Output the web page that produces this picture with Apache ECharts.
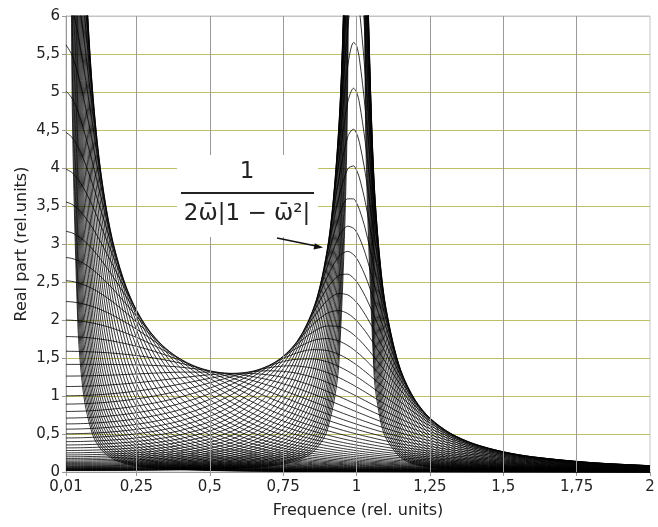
<!DOCTYPE html>
<html>
<head>
<meta charset="utf-8">
<script src="https://cdn.jsdelivr.net/npm/echarts@6/dist/echarts.min.js"></script>
<style>html,body{margin:0;padding:0;background:#fff}#c{width:658px;height:527px}</style>
</head>
<body>
<div id="c"></div>
<script>
// Frequency samples (rel. units)
const freq = [0.01,0.03,0.05,0.07,0.1,0.13,0.17,0.22,0.26,0.3,0.35,0.4,0.5,0.6,0.7,0.78,0.85,0.9,0.94,0.97,0.99,1.0,1.01,1.03,1.06,1.08,1.1,1.15,1.2,1.25,1.32,1.4,1.5,1.6,1.8,2.0];
const xTicks = [0.01,0.25,0.5,0.75,1,1.25,1.5,1.75,2];

// Real part curves, one per damping step
const r_m40 = [0.02,0.02,0.0201,0.0202,0.0204,0.0207,0.0212,0.0221,0.023,0.0242,0.026,0.0283,0.0356,0.0488,0.0768,0.13,0.259,0.549,1.44,5.17,25.4,50,24.6,4.84,1.27,0.71,0.449,0.191,0.103,0.0631,0.0362,0.0217,0.0128,0.0082,0.004,0.0022];
const r_m39 = [0.02244,0.02248,0.02255,0.02266,0.0229,0.02322,0.0238,0.02478,0.02581,0.0271,0.02914,0.0318,0.0399,0.0548,0.0862,0.146,0.29,0.6147,1.6036,5.657,25.2,44.56,24.45,5.289,1.4164,0.7936,0.5019,0.2144,0.1155,0.0707,0.0406,0.0243,0.0144,0.0092,0.0045,0.0025];
const r_m38 = [0.0252,0.0252,0.0253,0.0254,0.0257,0.0261,0.0267,0.0278,0.029,0.0304,0.0327,0.0357,0.0447,0.0614,0.0967,0.164,0.325,0.688,1.79,6.16,24.8,39.7,24,5.75,1.58,0.886,0.561,0.24,0.1295,0.0793,0.0456,0.0273,0.0161,0.0103,0.005,0.0028];
const r_m37 = [0.02826,0.0283,0.02839,0.02853,0.02882,0.02923,0.02996,0.0312,0.0325,0.03411,0.03668,0.04003,0.0502,0.0689,0.1085,0.1836,0.3641,0.7688,1.982,6.657,23.98,35.4,23.19,6.201,1.7467,0.9871,0.6269,0.2689,0.1451,0.0889,0.0511,0.0306,0.0181,0.0116,0.0056,0.0031];
const r_m36 = [0.0317,0.0318,0.0319,0.032,0.0323,0.0328,0.0336,0.035,0.0365,0.0383,0.0412,0.0449,0.0563,0.0773,0.1216,0.206,0.408,0.859,2.2,7.14,22.95,31.5,22.2,6.64,1.93,1.098,0.70,0.301,0.1625,0.0997,0.0573,0.0343,0.0203,0.013,0.0063,0.0035];
const r_m35 = [0.03557,0.03563,0.03574,0.03592,0.03629,0.0368,0.03771,0.03928,0.04091,0.04295,0.04619,0.0504,0.0632,0.0867,0.1364,0.2308,0.4564,0.958,2.425,7.595,21.74,28.12,20.99,7.041,2.13,1.2195,0.7794,0.3365,0.182,0.1117,0.0643,0.0385,0.0227,0.0146,0.0071,0.0039];
const r_m34 = [0.0399,0.04,0.0401,0.0403,0.0407,0.0413,0.0423,0.0441,0.0459,0.0482,0.0518,0.0565,0.0709,0.0973,0.153,0.259,0.511,1.067,2.67,7.99,20.4,25.06,19.67,7.39,2.34,1.35,0.867,0.376,0.2037,0.125,0.072,0.0431,0.0255,0.0164,0.0079,0.0044];
const r_m33 = [0.04478,0.04485,0.045,0.04522,0.04568,0.04633,0.04748,0.04945,0.0515,0.05407,0.05814,0.06343,0.0795,0.1091,0.1715,0.2897,0.5707,1.187,2.9226,8.324,18.96,22.33,18.28,7.672,2.554,1.4911,0.9623,0.4198,0.2279,0.1401,0.0807,0.0484,0.0286,0.0184,0.0089,0.005];
const r_m32 = [0.0503,0.0503,0.0505,0.0507,0.0513,0.052,0.0533,0.0555,0.0578,0.0607,0.0652,0.0712,0.0892,0.1224,0.192,0.324,0.637,1.317,3.18,8.56,17.5,19.9,16.86,7.87,2.77,1.64,1.065,0.468,0.2547,0.157,0.0904,0.0542,0.032,0.0206,0.01,0.0056];
const r_m31 = [0.05638,0.05647,0.05665,0.05693,0.05751,0.05832,0.05977,0.06224,0.06482,0.06805,0.07317,0.07983,0.1001,0.1372,0.2154,0.363,0.7108,1.4575,3.4463,8.695,16.06,17.74,15.46,7.962,2.991,1.7954,1.1757,0.5209,0.2844,0.1754,0.1013,0.0608,0.0359,0.0231,0.0112,0.0063];
const r_m30 = [0.0633,0.0634,0.0636,0.0639,0.0645,0.0654,0.0671,0.0698,0.0727,0.0763,0.0821,0.0896,0.1122,0.1539,0.241,0.406,0.792,1.608,3.70,8.72,14.65,15.81,14.1,7.95,3.2,1.955,1.292,0.579,0.3173,0.196,0.1133,0.068,0.0402,0.0259,0.0126,0.007];
const r_m29 = [0.07098,0.07109,0.07132,0.07166,0.0724,0.07342,0.07524,0.07835,0.08159,0.08565,0.09208,0.10046,0.1259,0.1725,0.2703,0.4537,0.8799,1.7662,3.9428,8.621,13.31,14.09,12.81,7.84,3.39,2.1143,1.4138,0.6412,0.3533,0.2188,0.1267,0.0762,0.0451,0.029,0.0141,0.0079];
const r_m28 = [0.0796,0.0798,0.08,0.0804,0.0812,0.0824,0.0844,0.0879,0.0915,0.0961,0.1033,0.1127,0.1412,0.1933,0.3025,0.5065,0.976,1.931,4.157,8.418,12.05,12.56,11.59,7.63,3.554,2.269,1.538,0.708,0.3927,0.244,0.1416,0.0852,0.0505,0.0325,0.0158,0.0088];
const r_m27 = [0.08935,0.0895,0.08978,0.09022,0.09114,0.09242,0.09471,0.09862,0.1027,0.10779,0.11587,0.12638,0.15826,0.21659,0.3384,0.5647,1.0793,2.0988,4.3365,8.119,10.871,11.194,10.454,7.337,3.685,2.4146,1.6619,0.7798,0.4356,0.2716,0.1581,0.0953,0.0565,0.0364,0.0177,0.0099];
const r_m26 = [0.1003,0.1004,0.1007,0.1012,0.1023,0.1037,0.1063,0.1107,0.1152,0.1209,0.13,0.1417,0.1774,0.2426,0.3782,0.6286,1.19,2.266,4.47,7.742,9.785,9.976,9.409,6.976,3.773,2.544,1.782,0.855,0.4818,0.302,0.1763,0.1065,0.0632,0.0408,0.0199,0.0111];
const r_m25 = [0.1125,0.11267,0.11303,0.11357,0.11474,0.11634,0.11922,0.12412,0.12924,0.13563,0.14577,0.15916,0.19883,0.27156,0.42234,0.69834,1.3055,2.4267,4.5486,7.305,8.791,8.891,8.452,6.566,3.8137,2.6498,1.8932,0.9315,0.531,0.3346,0.1962,0.1188,0.0707,0.0456,0.0222,0.0124];
const r_m24 = [0.1262,0.1264,0.1268,0.1274,0.1287,0.1305,0.1338,0.1393,0.145,0.1521,0.1635,0.1782,0.2228,0.3039,0.4711,0.774,1.426,2.576,4.569,6.83,7.886,7.925,7.58,6.125,3.805,2.728,1.992,1.009,0.5828,0.37,0.218,0.1325,0.079,0.051,0.0249,0.0139];
const r_m23 = [0.14162,0.14184,0.14229,0.14298,0.14443,0.14645,0.15006,0.1562,0.16261,0.17061,0.1833,0.19975,0.24949,0.33969,0.52455,0.85528,1.5475,2.7052,4.529,6.333,7.063,7.063,6.789,5.669,3.7454,2.7723,2.0713,1.0848,0.6364,0.4072,0.2416,0.1473,0.0881,0.057,0.0279,0.0156];
const r_m22 = [0.1589,0.1592,0.1597,0.1604,0.1621,0.1643,0.1683,0.1752,0.1824,0.1913,0.2055,0.2239,0.2793,0.3795,0.5831,0.9417,1.668,2.81,4.431,5.832,6.321,6.294,6.075,5.211,3.641,2.781,2.129,1.156,0.6909,0.4465,0.2669,0.1636,0.0981,0.0636,0.0312,0.0175];
const r_m21 = [0.17829,0.17857,0.17913,0.17999,0.18181,0.18433,0.18884,0.19652,0.20453,0.21451,0.23033,0.25081,0.31247,0.42336,0.6466,1.0322,1.7831,2.8826,4.2824,5.3386,5.6521,5.6101,5.4318,4.7639,3.4966,2.753,2.1594,1.2207,0.7447,0.4869,0.2939,0.1812,0.1091,0.0709,0.0348,0.0195];
const r_m20 = [0.2,0.2004,0.201,0.2019,0.204,0.2069,0.2118,0.2204,0.2293,0.2405,0.2581,0.2809,0.3493,0.4717,0.7151,1.1256,1.888,2.92,4.09,4.863,5.05,5.0,4.853,4.334,3.321,2.69,2.162,1.275,0.7962,0.528,0.3221,0.2,0.121,0.0789,0.0389,0.0218];
const r_m19 = [0.2244,0.2248,0.2255,0.2266,0.2288,0.232,0.2376,0.2472,0.2571,0.2695,0.2891,0.3144,0.3902,0.5246,0.788,1.2197,1.979,2.9186,3.8662,4.4111,4.5107,4.4563,4.3344,3.9278,3.1229,2.5965,2.1366,1.3153,0.8433,0.568,0.3512,0.2199,0.1339,0.0876,0.0433,0.0244];
const r_m18 = [0.2518,0.2522,0.253,0.2542,0.2567,0.2602,0.2665,0.2771,0.2882,0.302,0.3237,0.3518,0.4354,0.5823,0.8648,1.312,2.05,2.879,3.62,3.988,4.027,3.972,3.869,3.548,2.911,2.477,2.084,1.34,0.8838,0.606,0.3806,0.2407,0.1477,0.097,0.0482,0.0272];
const r_m17 = [0.2826,0.283,0.2839,0.2852,0.288,0.2919,0.2989,0.3107,0.323,0.3382,0.3623,0.3933,0.485,0.6445,0.9442,1.3992,2.0977,2.8041,3.3603,3.5948,3.5933,3.5396,3.4528,3.1964,2.6917,2.339,2.0083,1.3481,0.9157,0.6404,0.4093,0.2621,0.1622,0.1071,0.0535,0.0303];
const r_m16 = [0.317,0.3175,0.3185,0.32,0.3231,0.3274,0.3351,0.3482,0.3618,0.3786,0.4052,0.4392,0.5394,0.7111,1.025,1.478,2.119,2.698,3.098,3.234,3.206,3.155,3.081,2.874,2.473,2.188,1.913,1.338,0.937,0.6696,0.4365,0.2834,0.1772,0.1178,0.0593,0.0337];
const r_m15 = [0.3557,0.3563,0.3573,0.359,0.3624,0.3672,0.3757,0.3901,0.4051,0.4237,0.4528,0.49,0.5986,0.7814,1.1042,1.5443,2.112,2.5668,2.8381,2.9031,2.8596,2.8117,2.7477,2.579,2.2595,2.0297,1.8039,1.311,0.9465,0.6919,0.461,0.3041,0.1925,0.129,0.0655,0.0374];
const r_m14 = [0.3991,0.3997,0.4009,0.4027,0.4065,0.4117,0.4211,0.437,0.4534,0.4737,0.5054,0.5458,0.6625,0.8546,1.18,1.595,2.078,2.417,2.587,2.603,2.55,2.506,2.45,2.311,2.055,1.87,1.685,1.268,0.9436,0.706,0.4816,0.3235,0.2078,0.1404,0.0721,0.0414];
const r_m13 = [0.4478,0.4485,0.4498,0.4517,0.4559,0.4616,0.4719,0.4892,0.5071,0.5292,0.5635,0.607,0.7309,0.9294,1.2495,1.6263,2.0182,2.2558,2.348,2.3305,2.2742,2.2334,2.1851,2.0691,1.8615,1.7121,1.5619,1.2129,0.9284,0.7111,0.4972,0.3406,0.2224,0.1519,0.079,0.0457];
const r_m12 = [0.5025,0.5032,0.5046,0.5067,0.5113,0.5175,0.5287,0.5474,0.5667,0.5905,0.6272,0.6734,0.803,1.004,1.309,1.637,1.937,2.089,2.124,2.085,2.028,1.991,1.948,1.851,1.681,1.56,1.438,1.148,0.9019,0.7068,0.507,0.3547,0.2358,0.1631,0.0861,0.0502];
const r_m11 = [0.5638,0.5645,0.5661,0.5684,0.5733,0.58,0.592,0.6121,0.6327,0.658,0.6968,0.7452,0.8781,1.0758,1.3557,1.626,1.8386,1.9208,1.9153,1.8637,1.8078,1.7741,1.737,1.654,1.5141,1.4152,1.3153,1.0753,0.8657,0.6934,0.5102,0.365,0.2475,0.1736,0.0932,0.0549];
const r_m10 = [0.6326,0.6334,0.635,0.6375,0.6427,0.6498,0.6626,0.6838,0.7055,0.7319,0.7722,0.8218,0.9547,1.143,1.387,1.594,1.728,1.756,1.723,1.665,1.612,1.581,1.549,1.478,1.361,1.28,1.198,0.999,0.8218,0.6718,0.5067,0.3708,0.2568,0.1829,0.1002,0.0597];
const r_m9 = [0.7097,0.7106,0.7123,0.7149,0.7203,0.7278,0.7411,0.7631,0.7855,0.8125,0.8532,0.9026,1.0308,1.201,1.4001,1.5436,1.6097,1.5983,1.5477,1.4867,1.4367,1.4092,1.3803,1.3191,1.2212,1.1538,1.086,0.9216,0.7724,0.6432,0.4967,0.3718,0.2633,0.1906,0.1067,0.0644];
const r_m8 = [0.7963,0.7972,0.7989,0.8016,0.8072,0.8148,0.8282,0.8505,0.8728,0.8995,0.9393,0.9866,1.104,1.248,1.395,1.477,1.488,1.449,1.388,1.327,1.281,1.256,1.23,1.177,1.094,1.038,0.9815,0.8449,0.7196,0.6092,0.4809,0.3679,0.2664,0.1963,0.1126,0.069];
const r_m7 = [0.8935,0.8943,0.8961,0.8987,0.9041,0.9116,0.9247,0.9462,0.9676,0.9927,1.0295,1.0721,1.1724,1.2819,1.3719,1.3982,1.3667,1.3088,1.243,1.1842,1.1415,1.1194,1.0968,1.0505,0.9795,0.932,0.8847,0.7705,0.6653,0.5714,0.4601,0.3594,0.266,0.1996,0.1175,0.0733];
const r_m6 = [1.0025,1.0033,1.0049,1.0073,1.0123,1.0192,1.0312,1.0506,1.0694,1.0913,1.1223,1.157,1.232,1.3,1.332,1.311,1.248,1.179,1.112,1.056,1.018,0.9976,0.9776,0.9371,0.876,0.8356,0.7956,0.6996,0.611,0.5314,0.4355,0.3467,0.2622,0.2002,0.1212,0.077];
const r_m5 = [1.1248,1.1254,1.1267,1.1288,1.1329,1.1385,1.1482,1.1634,1.1778,1.194,1.2159,1.2386,1.2799,1.3003,1.2782,1.2186,1.135,1.0603,0.9942,0.9422,0.9069,0.8891,0.8714,0.8358,0.7829,0.7483,0.7142,0.633,0.5581,0.4905,0.4082,0.3307,0.2551,0.1983,0.1234,0.08];
const r_m4 = [1.262,1.2624,1.2632,1.2644,1.2669,1.2703,1.2759,1.2843,1.2916,1.299,1.3076,1.314,1.314,1.284,1.213,1.125,1.028,0.9517,0.8883,0.8403,0.8083,0.7924,0.7766,0.7453,0.6993,0.6694,0.6403,0.571,0.5075,0.4499,0.3794,0.3121,0.2452,0.1938,0.124,0.0821];
const r_m3 = [1.4159,1.4159,1.4159,1.4159,1.4157,1.4154,1.4146,1.4123,1.409,1.4039,1.3942,1.3795,1.3311,1.2516,1.1396,1.0312,0.9282,0.853,0.7932,0.7492,0.7205,0.7063,0.6922,0.6646,0.6243,0.5984,0.5733,0.5139,0.4596,0.4105,0.3501,0.2919,0.2331,0.1871,0.123,0.0832];
const r_m2 = [1.5886,1.5879,1.5866,1.5846,1.5802,1.5743,1.5637,1.5459,1.5276,1.5055,1.4721,1.432,1.331,1.205,1.061,0.9407,0.8359,0.7636,0.7081,0.668,0.6421,0.6295,0.617,0.5925,0.5572,0.5346,0.5128,0.4616,0.415,0.3729,0.321,0.2707,0.2194,0.1786,0.1204,0.0832];
const r_m1 = [1.7823,1.7806,1.7773,1.7723,1.7616,1.7472,1.7225,1.6828,1.6441,1.6,1.5377,1.4683,1.3137,1.1475,0.981,0.8543,0.7513,0.683,0.6319,0.5956,0.5723,0.561,0.5499,0.5282,0.4972,0.4774,0.4584,0.414,0.3738,0.3375,0.2928,0.2493,0.2046,0.1687,0.1164,0.0821];
const r_0 = [1.9996,1.9964,1.99,1.9806,1.9606,1.934,1.8893,1.8197,1.7547,1.6834,1.5873,1.4863,1.28,1.0813,0.9009,0.7731,0.6741,0.6105,0.5637,0.5309,0.5101,0.5,0.4901,0.4709,0.4435,0.4261,0.4095,0.3708,0.3359,0.3046,0.2659,0.2283,0.1893,0.1578,0.1112,0.08];
const r_p1 = [2.2434,2.2379,2.2271,2.2111,2.1777,2.1339,2.0615,1.9526,1.8549,1.7514,1.618,1.4848,1.232,1.0097,0.8227,0.6975,0.604,0.5453,0.5028,0.4733,0.4546,0.4456,0.4368,0.4198,0.3955,0.3803,0.3656,0.3318,0.3014,0.2742,0.2406,0.2079,0.1741,0.1464,0.1052,0.077];
const r_p2 = [2.5168,2.5081,2.4908,2.4654,2.4129,2.3451,2.2357,2.0769,1.9399,1.8002,1.628,1.4639,1.1725,0.9354,0.7479,0.6278,0.5406,0.4869,0.4484,0.4219,0.4052,0.3972,0.3893,0.3742,0.3527,0.3392,0.3264,0.2966,0.2701,0.2463,0.2171,0.1886,0.1591,0.1349,0.0985,0.0733];
const r_p3 = [2.8234,2.8099,2.7835,2.7446,2.6654,2.565,2.4071,2.187,2.0052,1.8269,1.6165,1.425,1.1045,0.8606,0.6773,0.564,0.4835,0.4346,0.3998,0.376,0.3611,0.354,0.347,0.3335,0.3145,0.3026,0.2912,0.265,0.2417,0.2209,0.1954,0.1706,0.1447,0.1236,0.0915,0.069];
const r_p4 = [3.1672,3.147,3.1073,3.0495,2.9334,2.7895,2.57,2.2775,2.0469,1.8297,1.5842,1.3703,1.031,0.7872,0.6115,0.5058,0.4321,0.3878,0.3565,0.3352,0.3219,0.3155,0.3092,0.2973,0.2804,0.2698,0.2598,0.2367,0.2162,0.1979,0.1755,0.1538,0.1311,0.1126,0.0844,0.0644];
const r_p5 = [3.5528,3.5228,3.4643,3.3802,3.214,3.0133,2.7179,2.3433,2.0624,1.8086,1.5333,1.303,0.9548,0.7166,0.5507,0.4531,0.3859,0.3459,0.3178,0.2987,0.2869,0.2812,0.2756,0.265,0.25,0.2406,0.2317,0.2113,0.1932,0.1771,0.1574,0.1383,0.1185,0.1022,0.0773,0.0597];
const r_p6 = [3.985,3.9412,3.8563,3.7356,3.5025,3.2296,2.8438,2.3806,2.0508,1.7647,1.4667,1.2265,0.8783,0.6497,0.4949,0.4055,0.3445,0.3085,0.2833,0.2663,0.2557,0.2506,0.2457,0.2362,0.2228,0.2145,0.2066,0.1886,0.1726,0.1584,0.141,0.1242,0.1067,0.0924,0.0705,0.0549];
const r_p7 = [4.4693,4.4059,4.2842,4.1137,3.7926,3.4302,2.9411,2.387,2.0127,1.7009,1.388,1.1442,0.8032,0.5871,0.444,0.3625,0.3075,0.2751,0.2526,0.2373,0.2279,0.2233,0.2189,0.2105,0.1986,0.1913,0.1842,0.1682,0.1541,0.1415,0.1262,0.1113,0.0959,0.0833,0.064,0.0502];
const r_p8 = [5.0121,4.9209,4.748,4.5102,4.0761,3.6064,3.004,2.3619,1.9506,1.6208,1.3009,1.059,0.731,0.5291,0.3979,0.3239,0.2743,0.2453,0.2251,0.2115,0.2031,0.1991,0.1951,0.1876,0.1771,0.1705,0.1643,0.15,0.1375,0.1264,0.1128,0.0997,0.0861,0.0749,0.0579,0.0457];
const r_p9 = [5.62,5.4898,5.2463,4.9191,4.3432,3.7492,3.0285,2.307,1.8682,1.5285,1.209,0.9737,0.6627,0.4758,0.3561,0.2893,0.2447,0.2187,0.2007,0.1885,0.181,0.1774,0.1739,0.1672,0.1578,0.152,0.1465,0.1338,0.1227,0.1128,0.1008,0.0892,0.0772,0.0673,0.0522,0.0414];
const r_p10 = [6.3006,6.1154,5.7759,5.3318,4.5827,3.8506,3.0131,2.2258,1.7699,1.4283,1.1154,0.8901,0.5988,0.4271,0.3185,0.2583,0.2183,0.195,0.1789,0.168,0.1613,0.1581,0.155,0.149,0.1407,0.1355,0.1306,0.1193,0.1094,0.1007,0.09,0.0797,0.0691,0.0603,0.047,0.0374];
const r_p11 = [7.0621,6.8003,6.3309,5.7369,4.7829,3.9043,2.9588,2.1229,1.6605,1.3239,1.0227,0.8098,0.5396,0.3828,0.2846,0.2305,0.1946,0.1738,0.1594,0.1498,0.1438,0.1409,0.1381,0.1328,0.1254,0.1208,0.1164,0.1064,0.0976,0.0898,0.0804,0.0712,0.0618,0.054,0.0422,0.0337];
const r_p12 = [7.9135,7.5452,6.9027,6.1208,4.933,3.907,2.8691,2.0036,1.5446,1.2186,0.9328,0.7339,0.4852,0.3427,0.2542,0.2056,0.1735,0.1549,0.1421,0.1335,0.1281,0.1256,0.1231,0.1184,0.1118,0.1076,0.1037,0.0948,0.087,0.0801,0.0717,0.0636,0.0552,0.0483,0.0378,0.0303];
const r_p13 = [8.8647,8.349,7.4788,6.4677,5.024,3.8585,2.7492,1.8735,1.4261,1.1152,0.847,0.663,0.4355,0.3066,0.2269,0.1834,0.1547,0.1381,0.1267,0.119,0.1142,0.1119,0.1097,0.1055,0.0996,0.0959,0.0925,0.0846,0.0776,0.0715,0.064,0.0568,0.0493,0.0432,0.0339,0.0272];
const r_p14 = [9.926,9.2077,8.0434,6.7612,5.0501,3.7619,2.6057,1.7377,1.3083,1.0155,0.7664,0.5973,0.3903,0.274,0.2025,0.1636,0.1379,0.1231,0.1129,0.106,0.1018,0.0998,0.0978,0.094,0.0888,0.0855,0.0824,0.0754,0.0692,0.0637,0.0571,0.0507,0.044,0.0386,0.0303,0.0244];
const r_p15 = [11.1085,10.1137,8.5773,6.9856,5.0097,3.6231,2.4457,1.6004,1.1939,0.9209,0.6915,0.537,0.3494,0.2448,0.1807,0.1459,0.123,0.1097,0.1006,0.0945,0.0907,0.0889,0.0872,0.0838,0.0791,0.0762,0.0735,0.0672,0.0617,0.0568,0.0509,0.0452,0.0393,0.0345,0.0271,0.0218];
const r_p16 = [12.424,11.055,9.058,7.1275,4.9053,3.45,2.2757,1.4652,1.0847,0.8324,0.6223,0.4819,0.3126,0.2186,0.1612,0.13,0.1096,0.0978,0.0897,0.0842,0.0809,0.0792,0.0777,0.0747,0.0705,0.0679,0.0655,0.0599,0.055,0.0507,0.0454,0.0403,0.0351,0.0308,0.0242,0.0195];
const r_p17 = [13.8835,12.0131,9.4634,7.1781,4.7436,3.2515,2.1018,1.3347,0.9818,0.7503,0.559,0.4319,0.2794,0.1951,0.1438,0.1159,0.0977,0.0872,0.0799,0.0751,0.0721,0.0706,0.0692,0.0666,0.0629,0.0605,0.0584,0.0534,0.049,0.0452,0.0405,0.036,0.0313,0.0275,0.0216,0.0175];
const r_p18 = [15.499,12.965,9.7706,7.134,4.534,3.0366,1.9287,1.2108,0.886,0.6748,0.5014,0.3867,0.2496,0.1741,0.1282,0.1034,0.0871,0.0777,0.0712,0.0669,0.0642,0.0629,0.0617,0.0593,0.056,0.054,0.052,0.0476,0.0437,0.0403,0.0361,0.0321,0.0279,0.0245,0.0193,0.0156];
const r_p19 = [17.2794,13.8807,9.9619,6.9982,4.2875,2.8132,1.7604,1.0946,0.7976,0.6058,0.4491,0.3458,0.2228,0.1553,0.1143,0.0921,0.0776,0.0693,0.0635,0.0596,0.0572,0.0561,0.055,0.0529,0.0499,0.0481,0.0464,0.0424,0.0389,0.0359,0.0322,0.0286,0.0249,0.0218,0.0172,0.0139];
const r_p20 = [19.234,14.725,10.025,6.7792,4.016,2.5885,1.5996,0.9869,0.7166,0.5431,0.4018,0.3091,0.1989,0.1385,0.1019,0.0821,0.0692,0.0617,0.0566,0.0531,0.051,0.05,0.049,0.0471,0.0445,0.0429,0.0413,0.0378,0.0347,0.032,0.0287,0.0255,0.0222,0.0195,0.0154,0.0124];
const r_p21 = [21.3685,15.4611,9.9562,6.49,3.7302,2.3679,1.4481,0.8877,0.6428,0.4863,0.3593,0.2761,0.1775,0.1235,0.0908,0.0732,0.0617,0.055,0.0504,0.0474,0.0455,0.0446,0.0437,0.042,0.0397,0.0382,0.0368,0.0337,0.0309,0.0285,0.0256,0.0227,0.0198,0.0174,0.0137,0.0111];
const r_p22 = [23.682,16.05,9.7596,6.1462,3.4398,2.1556,1.307,0.797,0.5758,0.435,0.321,0.2465,0.1583,0.1103,0.081,0.0653,0.055,0.049,0.0449,0.0422,0.0405,0.0397,0.0389,0.0374,0.0353,0.034,0.0328,0.03,0.0276,0.0254,0.0228,0.0202,0.0176,0.0155,0.0122,0.0099];
const r_p23 = [26.1676,16.4584,9.4476,5.7644,3.1526,1.9545,1.1767,0.7146,0.5153,0.3888,0.2867,0.22,0.1412,0.0982,0.0722,0.0582,0.049,0.0437,0.0401,0.0376,0.0361,0.0354,0.0347,0.0334,0.0315,0.0303,0.0293,0.0268,0.0246,0.0226,0.0203,0.018,0.0157,0.0138,0.0109,0.0088];
const r_p24 = [28.809,16.661,9.0388,5.3603,2.8744,1.7662,1.0573,0.6399,0.4608,0.3474,0.2559,0.1963,0.1259,0.0875,0.0644,0.0518,0.0437,0.0389,0.0357,0.0335,0.0322,0.0315,0.0309,0.0297,0.0281,0.027,0.0261,0.0239,0.0219,0.0202,0.0181,0.0161,0.014,0.0123,0.0097,0.0079];
const r_p25 = [31.5776,16.6456,8.555,4.9477,2.6095,1.5918,0.9484,0.5725,0.4117,0.3102,0.2284,0.1751,0.1123,0.078,0.0574,0.0462,0.0389,0.0347,0.0318,0.0299,0.0287,0.0281,0.0276,0.0265,0.025,0.0241,0.0232,0.0213,0.0195,0.018,0.0161,0.0143,0.0125,0.011,0.0087,0.007];
const r_p26 = [34.43,16.413,8.0194,4.5382,2.3607,1.4314,0.8497,0.5117,0.3677,0.2768,0.2038,0.1562,0.1001,0.0696,0.0511,0.0412,0.0347,0.0309,0.0284,0.0266,0.0256,0.0251,0.0246,0.0236,0.0223,0.0215,0.0207,0.0189,0.0174,0.016,0.0144,0.0128,0.0111,0.0098,0.0077,0.0063];
const r_p27 = [37.3035,15.9768,7.4539,4.1406,2.1293,1.2849,0.7604,0.4572,0.3283,0.247,0.1818,0.1393,0.0892,0.062,0.0456,0.0367,0.0309,0.0276,0.0253,0.0237,0.0228,0.0223,0.0219,0.0211,0.0199,0.0191,0.0185,0.0169,0.0155,0.0143,0.0128,0.0114,0.0099,0.0087,0.0069,0.0056];
const r_p28 = [40.12,15.365,6.8775,3.7612,1.9161,1.1517,0.68,0.4082,0.293,0.2204,0.1621,0.1242,0.0796,0.0553,0.0406,0.0327,0.0275,0.0246,0.0225,0.0212,0.0203,0.0199,0.0195,0.0188,0.0177,0.0171,0.0165,0.0151,0.0138,0.0127,0.0114,0.0102,0.0088,0.0078,0.0061,0.005];
const r_p29 = [42.7828,14.6114,6.3063,3.404,1.721,1.0312,0.6076,0.3644,0.2614,0.1965,0.1445,0.1107,0.0709,0.0493,0.0362,0.0292,0.0246,0.0219,0.0201,0.0189,0.0181,0.0177,0.0174,0.0167,0.0158,0.0152,0.0147,0.0134,0.0123,0.0114,0.0102,0.0091,0.0079,0.0069,0.0055,0.0044];
const r_p30 = [45.182,13.754,5.7522,3.0716,1.5433,0.9224,0.5427,0.3252,0.2331,0.1753,0.1289,0.0987,0.0632,0.0439,0.0323,0.026,0.0219,0.0195,0.0179,0.0168,0.0161,0.0158,0.0155,0.0149,0.0141,0.0136,0.0131,0.012,0.011,0.0101,0.0091,0.0081,0.007,0.0062,0.0049,0.004];
const r_p31 = [47.2025,12.8315,5.2239,2.7649,1.3823,0.8245,0.4845,0.2901,0.2079,0.1563,0.1149,0.088,0.0563,0.0391,0.0288,0.0232,0.0195,0.0174,0.0159,0.015,0.0144,0.0141,0.0138,0.0133,0.0125,0.0121,0.0116,0.0107,0.0098,0.009,0.0081,0.0072,0.0063,0.0055,0.0043,0.0035];
const r_p32 = [48.735,11.877,4.727,2.484,1.2368,0.7365,0.4324,0.2587,0.1854,0.1393,0.1024,0.0784,0.0502,0.0349,0.0256,0.0206,0.0174,0.0155,0.0142,0.0133,0.0128,0.0126,0.0123,0.0118,0.0112,0.0108,0.0104,0.0095,0.0087,0.008,0.0072,0.0064,0.0056,0.0049,0.0039,0.0031];
const r_p33 = [49.6894,10.9198,4.2647,2.228,1.1058,0.6576,0.3857,0.2307,0.1653,0.1242,0.0913,0.0699,0.0448,0.0311,0.0228,0.0184,0.0155,0.0138,0.0127,0.0119,0.0114,0.0112,0.011,0.0106,0.01,0.0096,0.0093,0.0085,0.0078,0.0072,0.0064,0.0057,0.005,0.0044,0.0035,0.0028];
const r_p34 = [50.004,9.9828,3.8385,1.9958,0.988,0.587,0.3441,0.2057,0.1474,0.1107,0.0814,0.0623,0.0399,0.0277,0.0204,0.0164,0.0138,0.0123,0.0113,0.0106,0.0102,0.01,0.0098,0.0094,0.0089,0.0086,0.0082,0.0075,0.0069,0.0064,0.0057,0.0051,0.0044,0.0039,0.0031,0.0025];
const r_p35 = [49.661,9.0829,3.448,1.786,0.8823,0.5238,0.3069,0.1834,0.1314,0.0987,0.0725,0.0555,0.0356,0.0247,0.0181,0.0146,0.0123,0.011,0.0101,0.0094,0.0091,0.0089,0.0087,0.0084,0.0079,0.0076,0.0073,0.0067,0.0062,0.0057,0.0051,0.0045,0.004,0.0035,0.0027,0.0022];
const r_p36 = [48.68,8.2316,3.0925,1.597,0.7876,0.4672,0.2736,0.1635,0.1171,0.088,0.0647,0.0495,0.0317,0.022,0.0162,0.013,0.011,0.0098,0.009,0.0084,0.0081,0.0079,0.0078,0.0075,0.0071,0.0068,0.0065,0.006,0.0055,0.0051,0.0045,0.004,0.0035,0.0031,0.0024,0.002];
const r_p37 = [47.1244,7.4361,2.7701,1.427,0.7028,0.4167,0.244,0.1458,0.1044,0.0784,0.0576,0.0441,0.0282,0.0196,0.0144,0.0116,0.0098,0.0087,0.008,0.0075,0.0072,0.0071,0.0069,0.0067,0.0063,0.0061,0.0058,0.0053,0.0049,0.0045,0.0041,0.0036,0.0031,0.0028,0.0022,0.0018];
const r_p38 = [45.086,6.6996,2.4788,1.2744,0.627,0.3716,0.2175,0.13,0.0931,0.0699,0.0514,0.0393,0.0252,0.0175,0.0128,0.0103,0.0087,0.0078,0.0071,0.0067,0.0064,0.0063,0.0062,0.0059,0.0056,0.0054,0.0052,0.0048,0.0044,0.004,0.0036,0.0032,0.0028,0.0025,0.0019,0.0016];
const r_p39 = [42.6731,6.0232,2.2163,1.1377,0.5593,0.3314,0.1939,0.1158,0.083,0.0623,0.0458,0.0351,0.0224,0.0156,0.0114,0.0092,0.0078,0.0069,0.0063,0.006,0.0057,0.0056,0.0055,0.0053,0.005,0.0048,0.0046,0.0042,0.0039,0.0036,0.0032,0.0029,0.0025,0.0022,0.0017,0.0014];
const r_p40 = [40.002,5.4057,1.9803,1.0153,0.4988,0.2954,0.1729,0.1033,0.074,0.0556,0.0408,0.0313,0.02,0.0139,0.0102,0.0082,0.0069,0.0062,0.0057,0.0053,0.0051,0.005,0.0049,0.0047,0.0045,0.0043,0.0041,0.0038,0.0035,0.0032,0.0029,0.0026,0.0022,0.002,0.0015,0.0013];

const curves = [r_m40,r_m39,r_m38,r_m37,r_m36,r_m35,r_m34,r_m33,r_m32,r_m31,r_m30,r_m29,r_m28,r_m27,r_m26,r_m25,r_m24,r_m23,r_m22,r_m21,r_m20,r_m19,r_m18,r_m17,r_m16,r_m15,r_m14,r_m13,r_m12,r_m11,r_m10,r_m9,r_m8,r_m7,r_m6,r_m5,r_m4,r_m3,r_m2,r_m1,r_0,r_p1,r_p2,r_p3,r_p4,r_p5,r_p6,r_p7,r_p8,r_p9,r_p10,r_p11,r_p12,r_p13,r_p14,r_p15,r_p16,r_p17,r_p18,r_p19,r_p20,r_p21,r_p22,r_p23,r_p24,r_p25,r_p26,r_p27,r_p28,r_p29,r_p30,r_p31,r_p32,r_p33,r_p34,r_p35,r_p36,r_p37,r_p38,r_p39,r_p40];

const chart = echarts.init(document.getElementById('c'), null, {renderer: 'canvas'});
const comma = v => String(v).replace('.', ',');
const olive = '#bfbf66';
// 13 horizontal grid lines (0 … 6); the top one is the light grey frame
const gridColors = [olive,olive,olive,olive,olive,olive,olive,olive,olive,olive,olive,olive,'#c4c4c4'];

const series = [{
  type: 'line', data: [], silent: true, z: 1,
  markLine: {
    silent: true, symbol: ['none', 'none'], animation: false,
    label: {show: false},
    lineStyle: {color: '#9a9a9a', width: 1, type: 'solid'},
    data: xTicks.slice(1, -1).map(v => ({xAxis: v}))
  }
}];
curves.forEach(ys => {
  series.push({
    type: 'line', silent: true, z: 2,
    symbol: 'none', smooth: 0.3, clip: true,
    lineStyle: {color: '#000', width: 0.8},
    data: freq.map((x, i) => [x, ys[i]])
  });
});

chart.setOption({
  animation: false,
  grid: {left: 66, right: 8, top: 16, bottom: 55, show: true, borderColor: '#c4c4c4', borderWidth: 1},
  xAxis: {
    type: 'value', min: 0.01, max: 2,
    name: 'Frequence (rel. units)', nameLocation: 'middle', nameGap: 31,
    nameTextStyle: {fontFamily: 'DejaVu Sans', fontSize: 16, color: '#222'},
    axisLine: {show: true, lineStyle: {color: '#999'}},
    axisTick: {show: true, customValues: xTicks, length: 4, lineStyle: {color: '#999'}},
    axisLabel: {customValues: xTicks, formatter: comma, fontFamily: 'DejaVu Sans', fontSize: 15, color: '#222', margin: 8},
    splitLine: {show: false}
  },
  yAxis: {
    type: 'value', min: 0, max: 6, interval: 0.5,
    name: 'Real part (rel.units)', nameLocation: 'middle', nameGap: 36, nameMoveOverlap: false,
    nameTextStyle: {fontFamily: 'DejaVu Sans', fontSize: 16, color: '#222'},
    axisLine: {show: true, lineStyle: {color: '#999'}},
    axisTick: {show: true, length: 4, lineStyle: {color: '#999'}},
    axisLabel: {formatter: comma, fontFamily: 'DejaVu Sans', fontSize: 15, color: '#222', margin: 6},
    splitLine: {show: true, lineStyle: {color: gridColors, width: 1}}
  },
  graphic: [
    {type: 'rect', shape: {x: 177, y: 155, width: 141, height: 82}, style: {fill: '#fff'}, z: 50, silent: true},
    {type: 'text', x: 247, y: 172, style: {text: '1', fontFamily: 'DejaVu Sans', fontSize: 23, fill: '#222', align: 'center', verticalAlign: 'middle'}, z: 51},
    {type: 'line', shape: {x1: 181, y1: 193, x2: 314, y2: 193}, style: {stroke: '#222', lineWidth: 2}, z: 51},
    {type: 'text', x: 247, y: 214, style: {text: '2\u03C9\u0304|1 \u2212 \u03C9\u0304\u00B2|', fontFamily: 'DejaVu Sans', fontSize: 23, fill: '#222', align: 'center', verticalAlign: 'middle'}, z: 51},
    {type: 'line', shape: {x1: 277, y1: 238, x2: 316, y2: 246}, style: {stroke: '#111', lineWidth: 1.5}, z: 51},
    {type: 'polygon', shape: {points: [[323, 247.5], [313.5, 249.5], [314.8, 243.2]]}, style: {fill: '#111'}, z: 51}
  ],
  series: series
});
</script>
</body>
</html>
